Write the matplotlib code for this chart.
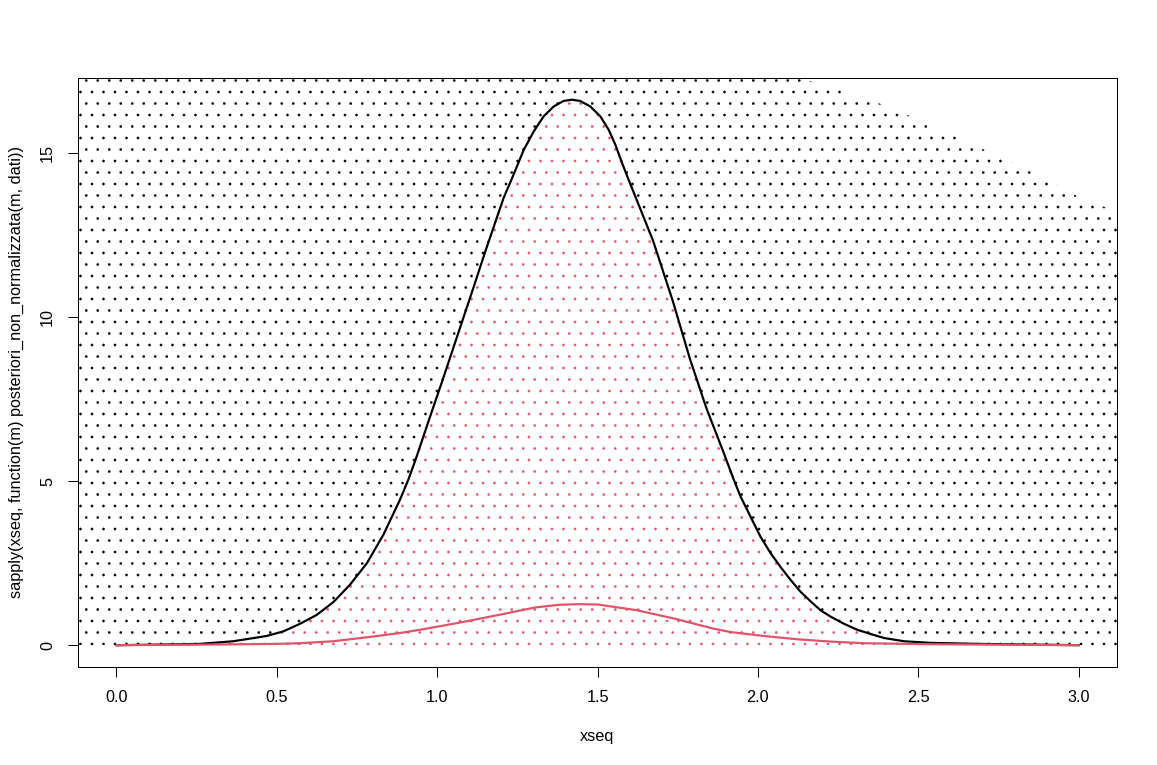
import numpy as np
import matplotlib
matplotlib.use('Agg')
import matplotlib.pyplot as plt

# ---- data ----
# unnormalised posterior (black curve)
post_x = [0.000, 0.145, 0.260, 0.364, 0.468, 0.520, 0.572, 0.624, 0.676, 0.728,
          0.781, 0.832, 0.884, 0.910, 0.933, 0.975, 1.017, 1.058, 1.110, 1.152,
          1.207, 1.238, 1.270, 1.301, 1.332, 1.363, 1.394, 1.420, 1.446, 1.478,
          1.509, 1.535, 1.556, 1.577, 1.597, 1.618, 1.673, 1.735, 1.788, 1.840,
          1.892, 1.925, 1.946, 1.977, 2.008, 2.040, 2.071, 2.102, 2.133, 2.165,
          2.196, 2.227, 2.269, 2.310, 2.352, 2.393, 2.456, 2.539, 2.685, 3.000]
post_y = [0.00, 0.02, 0.04, 0.12, 0.28, 0.42, 0.65, 0.92, 1.31, 1.84,
          2.50, 3.36, 4.43, 5.04, 5.66, 6.88, 8.08, 9.28, 10.80, 12.05,
          13.62, 14.33, 15.09, 15.65, 16.11, 16.41, 16.58, 16.62, 16.58, 16.41,
          16.11, 15.70, 15.24, 14.68, 14.18, 13.67, 12.33, 10.48, 8.73, 7.21,
          5.90, 5.04, 4.53, 3.92, 3.31, 2.80, 2.38, 1.99, 1.63, 1.33,
          1.06, 0.87, 0.65, 0.47, 0.34, 0.22, 0.12, 0.07, 0.04, 0.00]

# second (red) curve
red_x = [0.000, 0.300, 0.500, 0.572, 0.676, 0.781, 0.884, 0.947, 1.066, 1.186,
         1.306, 1.380, 1.440, 1.500, 1.620, 1.740, 1.859, 1.915, 2.019, 2.123,
         2.227, 2.331, 2.539, 3.000]
red_y = [0.00, 0.02, 0.04, 0.06, 0.12, 0.24, 0.37, 0.47, 0.68, 0.91,
         1.15, 1.23, 1.25, 1.24, 1.07, 0.81, 0.51, 0.40, 0.28, 0.18,
         0.11, 0.06, 0.03, 0.00]

# upper boundary of the cloud of proposal points
env_x = [-0.12, 2.13, 2.23, 2.41, 2.57, 2.75, 2.88, 3.00, 3.12]
env_y = [17.28, 17.28, 17.0, 16.4, 15.7, 14.9, 14.3, 13.66, 13.2]

x_ticks = [0.0, 0.5, 1.0, 1.5, 2.0, 2.5, 3.0]
x_tick_labels = ['0.0', '0.5', '1.0', '1.5', '2.0', '2.5', '3.0']
y_ticks = [0, 5, 10, 15]
y_tick_labels = ['0', '5', '10', '15']

xlabel = 'xseq'
ylabel = 'sapply(xseq, function(m) posteriori_non_normalizzata(m, dati))'

# ---- style ----
DPI = 138                      # hatch tile = DPI px -> dot spacing ~11.5 px with '..'
def pt(px):
    return px * 72.0 / DPI

plt.rcParams['font.family'] = ['Liberation Sans', 'DejaVu Sans']
plt.rcParams['hatch.linewidth'] = pt(0.3)
RED = '#DF536B'
FS = pt(16.3)

W, H = 1157, 765
fig = plt.figure(figsize=(W / DPI, H / DPI), dpi=DPI)
fig.patch.set_facecolor('white')
ax = fig.add_axes([78 / W, 1 - 667 / H, (1117 - 78) / W, (667 - 78) / H])

XMIN, XMAX = -0.12, 3.12
YMIN, YMAX = -0.6645, 17.28
ax.set_xlim(XMIN, XMAX)
ax.set_ylim(YMIN, YMAX)

# cloud of rejected points (texture) between the curve and the envelope
low_x = [XMIN] + post_x + [XMAX]
low_y = [0.0] + post_y + [0.0]
poly_x = env_x + low_x[::-1]
poly_y = env_y + low_y[::-1]
ax.fill(poly_x, poly_y, facecolor='none', edgecolor='black', hatch='..',
        linewidth=0, zorder=1)

# cloud of accepted points (texture) under the curve
acc_x = post_x + post_x[::-1]
acc_y = post_y + [0.0] * len(post_x)
ax.fill(acc_x, acc_y, facecolor='none', edgecolor=RED, hatch='..',
        linewidth=0, zorder=1)

# curves
ax.plot(post_x, post_y, color='black', lw=pt(2.2), zorder=3, solid_joinstyle='round')
ax.plot(red_x, red_y, color=RED, lw=pt(2.2), zorder=4, solid_joinstyle='round')

# axes in R base style
for s in ax.spines.values():
    s.set_linewidth(pt(1.0))
    s.set_color('black')
ax.set_xticks(x_ticks)
ax.set_xticklabels(x_tick_labels)
ax.set_yticks(y_ticks)
ax.set_yticklabels(y_tick_labels, rotation=90, va='center')
ax.tick_params(axis='both', direction='out', length=pt(10), width=pt(1.0),
               labelsize=FS, pad=pt(13), colors='black')

ax.set_xlabel(xlabel, fontsize=FS, va='center')
ax.xaxis.set_label_coords(0.5, -(737 - 667) / (667 - 78))
ax.set_ylabel(ylabel, fontsize=FS, va='center')
ax.yaxis.set_label_coords(-(78 - 16) / (1117 - 78), 0.5)

fig.savefig('out.png', dpi=DPI)
